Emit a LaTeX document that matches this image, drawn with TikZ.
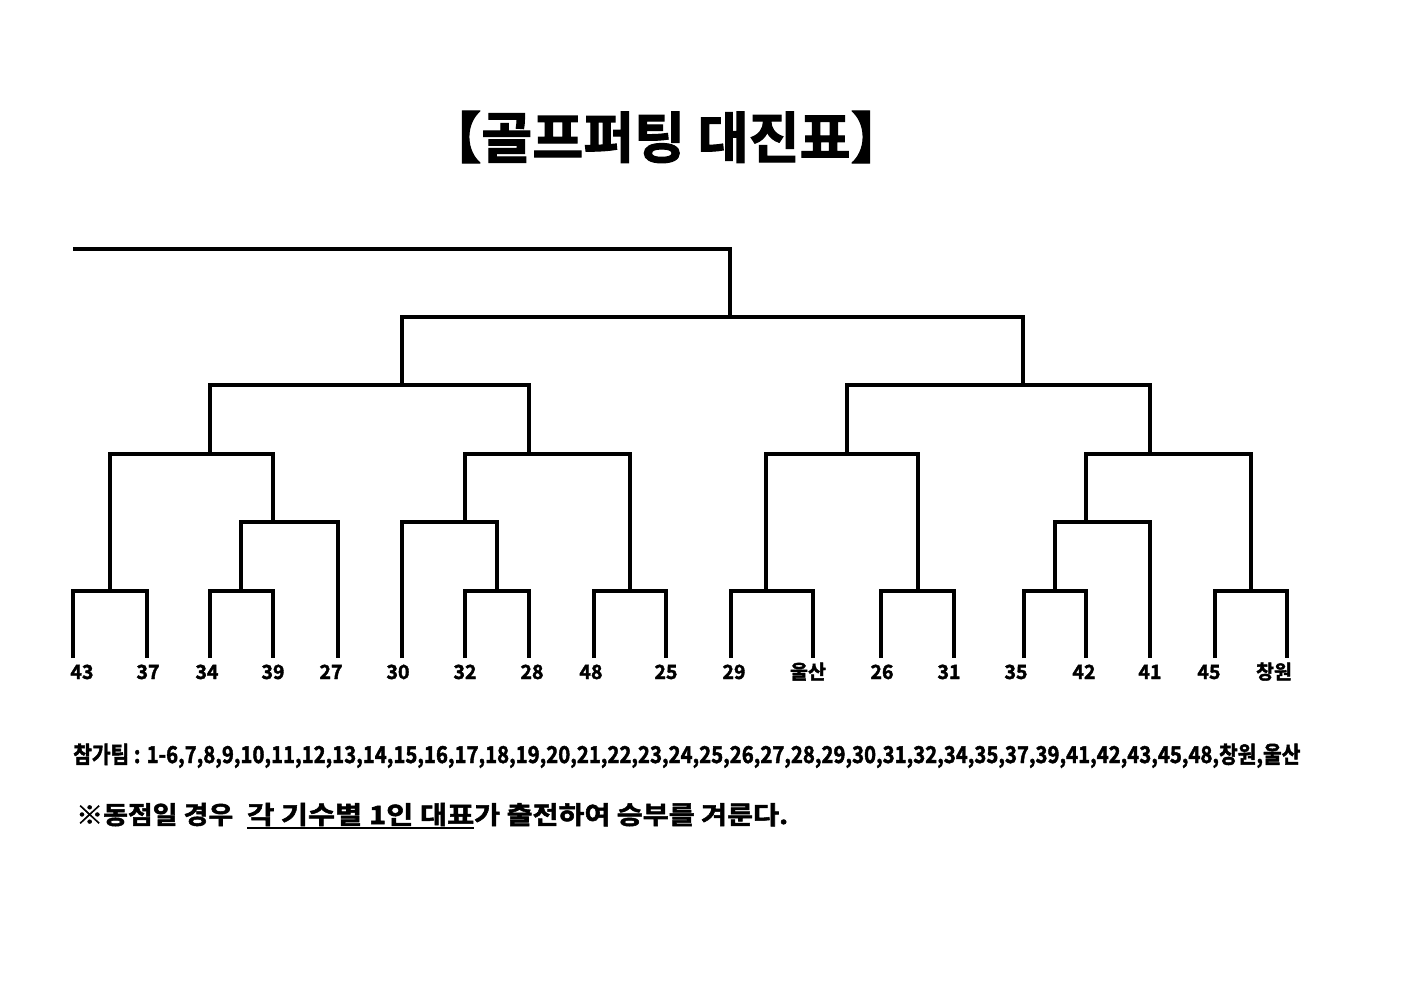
\documentclass[tikz,border=0pt]{standalone}
\usepackage{fontspec}
\setmainfont{Noto Sans CJK KR}[BoldFont={Noto Sans CJK KR Bold},BoldFeatures={FakeBold=2}]
\usepackage{graphicx}
\begin{document}
\begin{tikzpicture}[x=1pt,y=-1pt,
  br/.style={line width=3.2pt,line join=miter},
  lbl/.style={anchor=base,inner sep=0pt,font=\bfseries\fontsize{19.5}{19.5}\selectfont},
  txt/.style={anchor=base west,inner sep=0pt,font=\bfseries}]
\useasboundingbox (0,0) rectangle (1403,992);
% title
\node[anchor=base,inner sep=0pt,font=\bfseries] (title) at (666,158)
  {\resizebox{480pt}{!}{\fontsize{50}{50}\selectfont 【골프퍼팅 대진표】}};
% leaf ends
\foreach \n/\x in {1/73,2/147,3/210,4/273,5/338,6/402,7/465,8/529,9/594,10/666,
  11/731,12/813,13/881,14/954,15/1024,16/1086,17/1150,18/1215,19/1287}
  \coordinate (L\n) at (\x,658);
% junctions (stem points)
\coordinate (a1) at (110,591);
\coordinate (a2) at (241,591);
\coordinate (a3) at (497,591);
\coordinate (a4) at (630,591);
\coordinate (a5) at (766,591);
\coordinate (a6) at (918,591);
\coordinate (a7) at (1055,591);
\coordinate (a8) at (1251,591);
\coordinate (b1) at (273,522);
\coordinate (b2) at (465,522);
\coordinate (b3) at (1086,522);
\coordinate (c1) at (210,454);
\coordinate (c2) at (529,454);
\coordinate (c3) at (847,454);
\coordinate (c4) at (1150,454);
\coordinate (d1) at (402,385);
\coordinate (d2) at (1023,385);
\coordinate (e1) at (730,317);
\coordinate (top) at (73,249);
% level 1
\foreach \l/\m/\r in {1/1/2,3/2/4,7/3/8,9/4/10,11/5/12,13/6/14,15/7/16,18/8/19}
  \draw[br] (L\l) |- (a\m) -| (L\r);
% level 2
\draw[br] (a2) |- (b1) -| (L5);
\draw[br] (L6) |- (b2) -| (a3);
\draw[br] (a7) |- (b3) -| (L17);
% level 3
\draw[br] (a1) |- (c1) -| (b1);
\draw[br] (b2) |- (c2) -| (a4);
\draw[br] (a5) |- (c3) -| (a6);
\draw[br] (b3) |- (c4) -| (a8);
% level 4
\draw[br] (c1) |- (d1) -| (c2);
\draw[br] (c3) |- (d2) -| (c4);
% level 5
\draw[br] (d1) |- (e1) -| (d2);
\draw[br] (e1) |- (top);
% labels
\foreach \n/\x/\t in {1/82/43,2/148/37,3/207/34,4/273/39,5/331/27,6/398/30,7/465/32,
  8/532/28,9/591/48,10/666/25,11/734/29,12/808/울산,13/882/26,14/949/31,15/1016/35,
  16/1084/42,17/1150/41,18/1209/45,19/1274/창원}
  \node[lbl] (t\n) at (\x,679) {\t};
% participants
\node[txt] (part) at (73,763) {\resizebox{1227pt}{19.5pt}{참가팀 : 1-6,7,8,9,10,11,12,13,14,15,16,17,18,19,20,21,22,23,24,25,26,27,28,29,30,31,32,34,35,37,39,41,42,43,45,48,창원,울산}};
% note
\node[txt] (noteA) at (76,824) {\resizebox{157pt}{21pt}{※동점일 경우}};
\node[txt] (noteB) at (247,824) {\resizebox{227pt}{21pt}{각 기수별 1인 대표}};
\node[txt] (noteC) at (474,824) {\resizebox{314pt}{21pt}{가 출전하여 승부를 겨룬다.}};
\draw[line width=2pt] (noteB.south west |- 0,828) -- (noteB.south east |- 0,828);
\end{tikzpicture}
\end{document}
